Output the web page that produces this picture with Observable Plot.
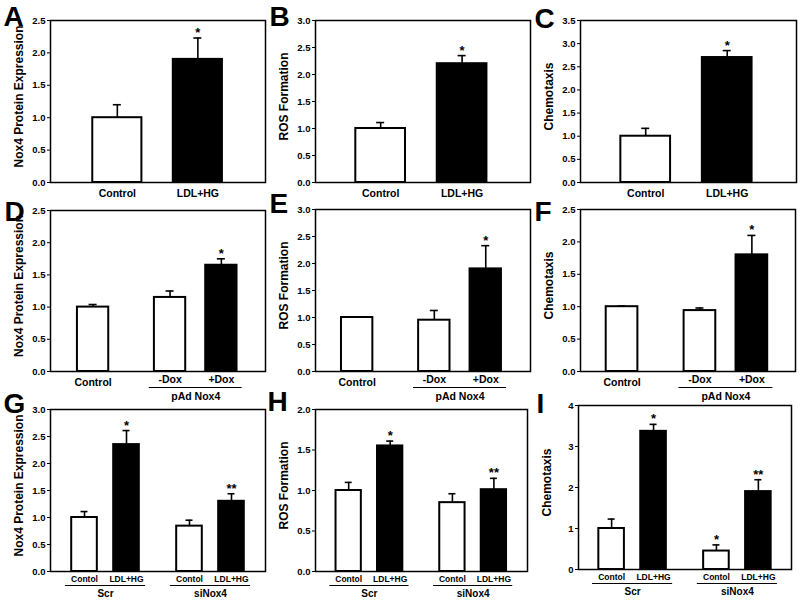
<!DOCTYPE html>
<html><head><meta charset="utf-8">
<script src="https://cdn.jsdelivr.net/npm/d3@7"></script>
<script src="https://cdn.jsdelivr.net/npm/@observablehq/plot@0.6"></script>
<style>
body{margin:0;background:#fff;}
#fig{position:relative;width:800px;height:605px;overflow:hidden;background:#fff;font-family:"Liberation Sans",Arial,sans-serif;}
#fig svg{position:absolute;overflow:visible;}
</style></head><body><div id="fig"></div>
<script>
// ---------- data ----------
const yLabels = ["Nox4 Protein Expression", "ROS Formation", "Chemotaxis"];
const treatedCats = ["LDL+HG", "+Dox"];

// Row 1
const abcCategories = ["Control", "LDL+HG"];
const aValues = [1.0, 1.9];   const aErrors = [0.2, 0.33];  const aStars = ["", "*"];
const bValues = [1.0, 2.2];   const bErrors = [0.11, 0.15]; const bStars = ["", "*"];
const cValues = [1.0, 2.7];   const cErrors = [0.17, 0.15]; const cStars = ["", "*"];

// Row 2
const defCategories = ["Control", "-Dox", "+Dox"];
const defGroups = ["", "pAd Nox4", "pAd Nox4"];
const dValues = [1.0, 1.15, 1.65]; const dErrors = [0.04, 0.1, 0.1];  const dStars = ["", "", "*"];
const eValues = [1.0, 0.95, 1.9];  const eErrors = [0.01, 0.18, 0.43]; const eStars = ["", "", "*"];
const fValues = [1.0, 0.94, 1.8];  const fErrors = [0.01, 0.04, 0.3];  const fStars = ["", "", "*"];

// Row 3
const ghiCategories = ["Contol", "LDL+HG", "Contol", "LDL+HG"];
const ghiGroups = ["Scr", "Scr", "siNox4", "siNox4"];
const gValues = [1.0, 2.35, 0.84, 1.3];  const gErrors = [0.11, 0.26, 0.11, 0.14]; const gStars = ["", "*", "", "**"];
const hValues = [1.0, 1.55, 0.85, 1.01]; const hErrors = [0.1, 0.06, 0.11, 0.14];  const hStars = ["", "*", "", "**"];
const iValues = [1.0, 3.37, 0.45, 1.9];  const iErrors = [0.23, 0.17, 0.15, 0.29]; const iStars = ["", "*", "*", "**"];

// y axes: max and tick step
const yMaxes = {A: 2.5, B: 3.0, C: 3.5, D: 2.5, E: 3.0, F: 2.5, G: 3.0, H: 2.0, I: 4};
const yTickSteps = {A: 0.5, B: 0.5, C: 0.5, D: 0.5, E: 0.5, F: 0.5, G: 0.5, H: 0.5, I: 1};

// ---------- layout ----------
const row1 = {catFont: 10.5, catDy: 11, catDyUngrouped: 11, groupFont: 10.5, lineDy: 0, groupDy: 0, capPx: 4, gap: 0};
const row2 = {catFont: 10.5, catDy: 8, catDyUngrouped: 11, groupFont: 10.5, lineDy: 16, groupDy: 25, capPx: 4, gap: 0.5, linePad: 0.1};
const row3 = {catFont: 8.5, catDy: 7.5, catDyUngrouped: 7.5, groupFont: 10, lineDy: 14, groupDy: 22, capPx: 3.5, gap: 0.5, linePad: 0.15};

const panels = [
  {letter: "A", cats: abcCategories, vals: aValues, errs: aErrors, stars: aStars, yLabel: yLabels[0], frame: [50, 20, 265, 182], xDomain: [-0.83, 1.84], letterPos: [3, 25], ...row1},
  {letter: "B", cats: abcCategories, vals: bValues, errs: bErrors, stars: bStars, yLabel: yLabels[1], frame: [315, 20, 530, 182], xDomain: [-0.80, 1.84], letterPos: [269, 25], ...row1},
  {letter: "C", cats: abcCategories, vals: cValues, errs: cErrors, stars: cStars, yLabel: yLabels[2], frame: [580, 20, 796, 182], xDomain: [-0.80, 1.85], letterPos: [534, 27], ...row1},
  {letter: "D", cats: defCategories, groups: defGroups, vals: dValues, errs: dErrors, stars: dStars, yLabel: yLabels[0], frame: [50, 210, 265, 371], xDomain: [-0.83, 3.36], letterPos: [4, 220], ...row2},
  {letter: "E", cats: defCategories, groups: defGroups, vals: eValues, errs: eErrors, stars: eStars, yLabel: yLabels[1], frame: [315, 209, 530, 371], xDomain: [-0.81, 3.37], letterPos: [269, 212], ...row2},
  {letter: "F", cats: defCategories, groups: defGroups, vals: fValues, errs: fErrors, stars: fStars, yLabel: yLabels[2], frame: [580, 209, 795, 371], xDomain: [-0.80, 3.34], letterPos: [534, 220], ...row2},
  {letter: "G", cats: ghiCategories, groups: ghiGroups, vals: gValues, errs: gErrors, stars: gStars, yLabel: yLabels[0], frame: [50, 409, 265, 571], xDomain: [-0.81, 4.31], letterPos: [3, 412], ...row3},
  {letter: "H", cats: ghiCategories, groups: ghiGroups, vals: hValues, errs: hErrors, stars: hStars, yLabel: yLabels[1], frame: [315, 409, 527, 571], xDomain: [-0.80, 4.31], letterPos: [267, 410], ...row3},
  {letter: "I", cats: ghiCategories, groups: ghiGroups, vals: iValues, errs: iErrors, stars: iStars, yLabel: yLabels[2], frame: [578, 405, 791, 569], xDomain: [-0.79, 4.29], letterPos: [536, 412], ...row3}
];

const FONT = '"Liberation Sans", Arial, Helvetica, sans-serif';
const fig = document.getElementById("fig");
const HW = 0.305; // bar half width in band units

for (const p of panels) {
  const groups = p.groups || p.cats.map(() => "");
  const groupNames = [...new Set(groups)];
  const data = p.cats.map((c, i) => ({
    cat: c,
    value: p.vals[i],
    top: p.vals[i] + p.errs[i],
    star: p.stars[i],
    group: groups[i],
    pos: i + p.gap * groupNames.indexOf(groups[i])
  }));
  const [fx0, fy0, fx1, fy1] = p.frame;
  const mL = 50, mT = 20, mR = 6, mB = 34;
  const pxPerUnit = (fx1 - fx0) / (p.xDomain[1] - p.xDomain[0]);
  const cap = p.capPx / pxPerUnit;
  const yMax = yMaxes[p.letter], step = yTickSteps[p.letter];
  const ticks = d3.range(0, yMax + 1e-9, step);
  const fmt = step >= 1 ? d3.format("d") : d3.format(".1f");

  const groupData = groupNames.filter(g => g).map(g => {
    const ps = data.filter(d => d.group === g).map(d => d.pos);
    return {name: g, x1: d3.min(ps) - HW - p.linePad, x2: d3.max(ps) + HW + p.linePad, cx: (d3.min(ps) + d3.max(ps)) / 2};
  });

  const chart = Plot.plot({
    width: fx1 - fx0 + mL + mR,
    height: fy1 - fy0 + mT + mB,
    marginLeft: mL, marginTop: mT, marginRight: mR, marginBottom: mB,
    style: {fontFamily: FONT, background: "transparent", overflow: "visible", color: "black"},
    x: {type: "linear", domain: p.xDomain, axis: null},
    y: {domain: [0, yMax], axis: null},
    marks: [
      Plot.rectY(data, {x1: d => d.pos - HW, x2: d => d.pos + HW, y1: d => 0, y2: "value",
        fill: d => treatedCats.includes(d.cat) ? "black" : "white", stroke: "black", strokeWidth: 2}),
      Plot.ruleX(data, {x: "pos", y1: "value", y2: "top", stroke: "black", strokeWidth: 1.6}),
      Plot.ruleY(data, {y: "top", x1: d => d.pos - cap, x2: d => d.pos + cap, stroke: "black", strokeWidth: 1.6}),
      Plot.text(data.filter(d => d.star), {x: "pos", y: "top", text: "star", dy: -1, lineAnchor: "bottom",
        fontSize: 13, fontWeight: "bold", fill: "black"}),
      Plot.axisY({ticks, tickFormat: fmt, tickSize: 3, tickPadding: 2, fontSize: 9.5, fontWeight: "bold", label: null, stroke: "black", fill: "black"}),
      Plot.frame({stroke: "black", strokeWidth: 1.5}),
      // category labels
      Plot.text(data.filter(d => d.group), {x: "pos", y: d => 0, text: "cat", dy: p.catDy, lineAnchor: "middle",
        fontSize: p.catFont, fontWeight: "bold", fill: "black"}),
      Plot.text(data.filter(d => !d.group), {x: "pos", y: d => 0, text: "cat", dy: p.catDyUngrouped, lineAnchor: "middle",
        fontSize: p.catFont, fontWeight: "bold", fill: "black"}),
      // group underline and label
      Plot.ruleY(groupData, {y: d => 0, x1: "x1", x2: "x2", dy: p.lineDy, stroke: "black", strokeWidth: 1}),
      Plot.text(groupData, {x: "cx", y: d => 0, text: "name", dy: p.groupDy, lineAnchor: "middle",
        fontSize: p.groupFont, fontWeight: "bold", fill: "black"}),
      // y-axis title
      Plot.text([p.yLabel], {text: d => d, frameAnchor: "left", rotate: -90, dx: -31, dy: -5, textAnchor: "middle",
        lineAnchor: "middle", fontSize: 12, fontWeight: "bold", fill: "black"}),
      // panel letter
      Plot.text([p.letter], {text: d => d, frameAnchor: "top-left", dx: p.letterPos[0] - fx0, dy: p.letterPos[1] - fy0,
        textAnchor: "start", lineAnchor: "bottom", fontSize: 28, fontWeight: "bold", fill: "black"})
    ]
  });
  chart.style.left = (fx0 - mL) + "px";
  chart.style.top = (fy0 - mT) + "px";
  fig.appendChild(chart);
}
</script>
</body></html>
